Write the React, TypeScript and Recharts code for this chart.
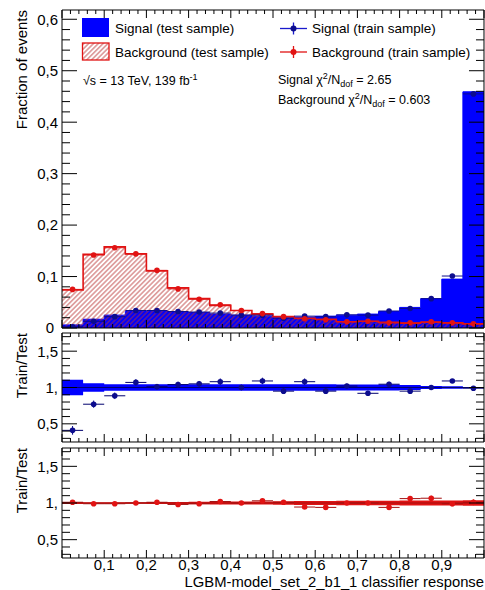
import React from 'react'
import { ComposedChart, Area, Scatter, ErrorBar, XAxis, YAxis, ReferenceLine } from 'recharts'

const FONT = "'Liberation Sans', Arial, Helvetica, sans-serif"
const W = 485
const BLUE = '#0000ff'
const BLUE_DARK = '#0c0c8e'
const RED = '#e11313'
const RED_DARK = '#a31010'
// axes take no room: the frame is drawn by their axis lines
const THIN = 0.01

// classifier response binning, 20 bins
const binEdges = [0, 0.05, 0.1, 0.15, 0.2, 0.25, 0.3, 0.35, 0.4, 0.45, 0.5, 0.55, 0.6, 0.65, 0.7, 0.75, 0.8, 0.85, 0.9, 0.95, 1]

// fraction of events per bin
const sigTest = [0.006, 0.017, 0.025, 0.032, 0.033, 0.031, 0.03, 0.027, 0.025, 0.023, 0.02, 0.021, 0.023, 0.025, 0.027, 0.032, 0.04, 0.057, 0.095, 0.459]
const sigTrain = [0.0025, 0.013, 0.022, 0.034, 0.034, 0.032, 0.031, 0.029, 0.025, 0.025, 0.019, 0.023, 0.022, 0.0255, 0.025, 0.033, 0.038, 0.057, 0.101, 0.455]
const bkgTest = [0.074, 0.143, 0.158, 0.144, 0.111, 0.078, 0.057, 0.044, 0.034, 0.027, 0.022, 0.019, 0.017, 0.012, 0.013, 0.011, 0.0095, 0.0113, 0.01, 0.008]
const bkgTrain = [0.075, 0.142, 0.156, 0.144, 0.112, 0.076, 0.056, 0.045, 0.034, 0.028, 0.022, 0.018, 0.016, 0.012, 0.013, 0.01, 0.01, 0.012, 0.01, 0.008]

// train/test ratios with their errors, and the test-sample error band
const sigRatio = [0.41, 0.77, 0.886, 1.07, 1.01, 1.04, 1.05, 1.08, 1.0, 1.09, 0.95, 1.08, 0.95, 1.02, 0.92, 1.045, 0.95, 1.0, 1.09, 0.99]
const sigRatioErr = [0.06, 0.05, 0.045, 0.045, 0.04, 0.04, 0.04, 0.045, 0.04, 0.045, 0.04, 0.045, 0.04, 0.035, 0.035, 0.035, 0.03, 0.02, 0.015, 0.006]
const sigBandErr = [0.105, 0.06, 0.045, 0.045, 0.045, 0.045, 0.045, 0.045, 0.045, 0.045, 0.045, 0.045, 0.045, 0.042, 0.042, 0.04, 0.035, 0.022, 0.016, 0.006]
const bkgRatio = [1.01, 0.99, 0.99, 1.0, 1.01, 0.98, 0.99, 1.02, 1.0, 1.03, 1.01, 0.945, 0.94, 1.0, 1.0, 0.94, 1.06, 1.065, 0.99, 1.01]
const bkgRatioErr = [0.012, 0.008, 0.008, 0.008, 0.01, 0.012, 0.014, 0.016, 0.018, 0.02, 0.022, 0.024, 0.026, 0.028, 0.03, 0.032, 0.035, 0.035, 0.035, 0.04]
const bkgBandErr = [0.015, 0.01, 0.01, 0.01, 0.012, 0.015, 0.018, 0.02, 0.02, 0.022, 0.024, 0.026, 0.028, 0.03, 0.03, 0.032, 0.034, 0.034, 0.034, 0.036]

// labelled axis values
const xLabels = [0.1, 0.2, 0.3, 0.4, 0.5, 0.6, 0.7, 0.8, 0.9]
const fracLabels = [0, 0.1, 0.2, 0.3, 0.4, 0.5, 0.6]
const ratioLabels = [0.5, 1, 1.5]

const steps = (from: number, to: number, step: number) =>
  Array.from({ length: Math.round((to - from) / step) + 1 }, (_, i) => +(from + i * step).toFixed(3))

const xTicks = steps(0, 1, 0.02)
const fracTicks = steps(0, 0.6, 0.02)
const ratioTicks = steps(0.3, 1.7, 0.1)

// step histograms: one row per bin edge, last edge repeats the last bin
const at = (arr: number[], i: number) => arr[Math.min(i, arr.length - 1)]
const histRows = binEdges.map((x, i) => ({
  x,
  sig: at(sigTest, i),
  bkg: at(bkgTest, i),
  sigBand: [1 - at(sigBandErr, i), 1 + at(sigBandErr, i)],
  bkgBand: [1 - at(bkgBandErr, i), 1 + at(bkgBandErr, i)],
}))

const points = (vals: number[], errs?: number[]) =>
  vals.map((y, i) => ({
    x: (binEdges[i] + binEdges[i + 1]) / 2,
    y,
    ex: (binEdges[i + 1] - binEdges[i]) / 2,
    ey: errs ? errs[i] : 0,
  }))

const sigTrainPts = points(sigTrain)
const bkgTrainPts = points(bkgTrain)
const sigRatioPts = points(sigRatio, sigRatioErr)
const bkgRatioPts = points(bkgRatio, bkgRatioErr)

// comma decimals; the "0" at the bottom of the top pad has no visible comma
const fmt = (v: number) => (v === 0 ? '0' : Number.isInteger(v) ? `${v},` : v.toFixed(1).replace('.', ','))

type Side = 'top' | 'bottom' | 'left' | 'right'

// ROOT-style ticks: drawn inward from the frame, labels outside
function axisTick(side: Side, step: number, labels: number[] = []) {
  const vertical = side === 'left' || side === 'right'
  const long = vertical ? 15 : 8
  const short = vertical ? 8 : 4
  return (props: any) => {
    const { x, y, payload } = props
    const v = payload.value as number
    const major = Math.abs(v / step - Math.round(v / step)) < 1e-6
    const len = major ? long : short
    const dx = side === 'left' ? len : side === 'right' ? -len : 0
    const dy = side === 'bottom' ? -len : side === 'top' ? len : 0
    const show = labels.some((l) => Math.abs(l - v) < 1e-6)
    return (
      <g>
        <line x1={x} y1={y} x2={x + dx} y2={y + dy} stroke="#000" strokeWidth={1} />
        {show && side === 'bottom' && (
          <text x={x} y={y + 12} textAnchor="middle" fontFamily={FONT} fontSize={15} fill="#000">
            {fmt(v)}
          </text>
        )}
        {show && side === 'left' && (
          <text x={x - (v === 0 ? 8 : 4)} y={y} dy="0.36em" textAnchor="end" fontFamily={FONT} fontSize={15} fill="#000">
            {fmt(v)}
          </text>
        )}
      </g>
    )
  }
}

const frameLine = { stroke: '#000', strokeWidth: 1 }

function frameAxes(yDomain: [number, number], yTicks: number[], yStep: number, yLabels: number[], xLab: number[]) {
  return [
    <XAxis key="xb" xAxisId="b" dataKey="x" type="number" domain={[0, 1]} allowDataOverflow ticks={xTicks} interval={0}
      height={THIN} tickSize={0} tickMargin={0} tickLine={false} axisLine={frameLine} tick={axisTick('bottom', 0.1, xLab)} />,
    <XAxis key="xt" xAxisId="t" orientation="top" dataKey="x" type="number" domain={[0, 1]} allowDataOverflow ticks={xTicks} interval={0}
      height={THIN} tickSize={0} tickMargin={0} tickLine={false} axisLine={frameLine} tick={axisTick('top', 0.1)} />,
    <YAxis key="yl" yAxisId="l" type="number" domain={yDomain} allowDataOverflow ticks={yTicks} interval={0}
      width={THIN} tickSize={0} tickMargin={0} tickLine={false} axisLine={frameLine} tick={axisTick('left', yStep, yLabels)} />,
    <YAxis key="yr" yAxisId="r" orientation="right" type="number" domain={yDomain} allowDataOverflow ticks={yTicks} interval={0}
      width={THIN} tickSize={0} tickMargin={0} tickLine={false} axisLine={frameLine} tick={axisTick('right', yStep)} />,
  ]
}

const dot = (color: string) => (p: any) => <circle cx={p.cx} cy={p.cy} r={2.8} fill={color} />

function TopPanel() {
  return (
    <ComposedChart width={W} height={330} data={histRows} margin={{ top: 10, right: 1, bottom: 2, left: 62 }}>
      {frameAxes([0, 0.618], fracTicks, 0.1, fracLabels, [])}
      <Area xAxisId="b" yAxisId="l" type="stepAfter" dataKey="sig" fill={BLUE} fillOpacity={1} stroke={BLUE}
        strokeWidth={1} dot={false} activeDot={false} isAnimationActive={false} />
      <Area xAxisId="b" yAxisId="l" type="stepAfter" dataKey="bkg" fill="url(#bkgHatch)" fillOpacity={1} stroke={RED}
        strokeWidth={1.6} dot={false} activeDot={false} isAnimationActive={false} />
      <Scatter xAxisId="b" yAxisId="l" data={sigTrainPts} dataKey="y" shape={dot(BLUE_DARK)} isAnimationActive={false}>
        <ErrorBar dataKey="ex" direction="x" width={0} stroke={BLUE_DARK} strokeWidth={1} isAnimationActive={false} />
      </Scatter>
      <Scatter xAxisId="b" yAxisId="l" data={bkgTrainPts} dataKey="y" shape={dot(RED)} isAnimationActive={false}>
        <ErrorBar dataKey="ex" direction="x" width={0} stroke={RED} strokeWidth={1} isAnimationActive={false} />
      </Scatter>
    </ComposedChart>
  )
}

function RatioPanel({ height, margin, band, pts, fill, line, mark, xLab }: {
  height: number
  margin: { top: number; right: number; bottom: number; left: number }
  band: string
  pts: typeof sigRatioPts
  fill: string
  line: string
  mark: string
  xLab: number[]
}) {
  return (
    <ComposedChart width={W} height={height} data={histRows} margin={margin}>
      {frameAxes([0.25, 1.75], ratioTicks, 0.5, ratioLabels, xLab)}
      <Area xAxisId="b" yAxisId="l" type="stepAfter" dataKey={band} fill={fill} fillOpacity={1} stroke="none"
        dot={false} activeDot={false} isAnimationActive={false} />
      <ReferenceLine xAxisId="b" yAxisId="l" y={1} stroke={line} strokeWidth={1.2} />
      <Scatter xAxisId="b" yAxisId="l" data={pts} dataKey="y" shape={dot(mark)} isAnimationActive={false}>
        <ErrorBar dataKey="ex" direction="x" width={0} stroke={line} strokeWidth={1} isAnimationActive={false} />
        <ErrorBar dataKey="ey" direction="y" width={0} stroke={mark} strokeWidth={1} isAnimationActive={false} />
      </Scatter>
    </ComposedChart>
  )
}

function Overlay() {
  const text = { fontFamily: FONT, fill: '#000' }
  return (
    <svg width={W} height={590} style={{ position: 'absolute', left: 0, top: 0, pointerEvents: 'none' }}>
      <defs>
        <pattern id="bkgHatch" patternUnits="userSpaceOnUse" width={3.4} height={3.4} patternTransform="rotate(45)">
          <line x1={1.7} y1={0} x2={1.7} y2={3.4} stroke="#b83030" strokeWidth={0.8} />
        </pattern>
      </defs>

      {/* legend */}
      <rect x={82} y={18} width={27} height={19} fill={BLUE} />
      <text x={115} y={33} fontSize={13.5} {...text}>Signal (test sample)</text>
      <rect x={82.5} y={43} width={26.5} height={17} fill="url(#bkgHatch)" stroke={RED} strokeWidth={1.3} />
      <text x={115} y={56.5} fontSize={13.5} {...text}>Background (test sample)</text>

      <line x1={280} y1={28.5} x2={307} y2={28.5} stroke="#1a1acc" strokeWidth={1.3} />
      <line x1={293.5} y1={22.5} x2={293.5} y2={34.5} stroke="#1a1acc" strokeWidth={1.3} />
      <circle cx={293.5} cy={28.5} r={3} fill={BLUE_DARK} />
      <text x={312} y={33} fontSize={13.5} {...text}>Signal (train sample)</text>
      <line x1={280} y1={52} x2={307} y2={52} stroke={RED} strokeWidth={1.3} />
      <line x1={293.5} y1={46} x2={293.5} y2={58} stroke={RED} strokeWidth={1.3} />
      <circle cx={293.5} cy={52} r={3} fill={RED} />
      <text x={312} y={56.5} fontSize={13.5} {...text}>Background (train sample)</text>

      <text x={83} y={85} fontSize={12.5} {...text}>
        √s = 13 TeV, 139 fb<tspan dy={-5} fontSize={9}>-1</tspan>
      </text>
      <text x={278} y={84} fontSize={12.5} {...text}>
        Signal χ<tspan dy={-5} fontSize={9}>2</tspan>
        <tspan dy={5}>/N</tspan>
        <tspan dy={3} fontSize={9}>dof</tspan>
        <tspan dy={-3}> = 2.65</tspan>
      </text>
      <text x={278} y={104} fontSize={12.5} {...text}>
        Background χ<tspan dy={-5} fontSize={9}>2</tspan>
        <tspan dy={5}>/N</tspan>
        <tspan dy={3} fontSize={9}>dof</tspan>
        <tspan dy={-3}> = 0.603</tspan>
      </text>

      {/* axis titles */}
      <text transform="translate(27,10) rotate(-90)" textAnchor="end" fontSize={15} {...text}>Fraction of events</text>
      <text transform="translate(27,333) rotate(-90)" textAnchor="end" fontSize={15} {...text}>Train/Test</text>
      <text transform="translate(27,448) rotate(-90)" textAnchor="end" fontSize={15} {...text}>Train/Test</text>
      <text x={484} y={586.8} textAnchor="end" fontSize={14.8} {...text}>LGBM-model_set_2_b1_1 classifier response</text>
    </svg>
  )
}

export default function App() {
  return (
    <div style={{ position: 'absolute', left: 0, top: 0, width: W, height: 590, background: '#fff' }}>
      {/* let tick labels that sit on a pad edge spill past the chart surface */}
      <style>{'.recharts-surface { overflow: visible; }'}</style>
      <div style={{ position: 'absolute', left: 0, top: 0 }}>
        <TopPanel />
      </div>
      <div style={{ position: 'absolute', left: 0, top: 330 }}>
        <RatioPanel height={114} margin={{ top: 3, right: 1, bottom: 2, left: 62 }} band="sigBand" pts={sigRatioPts}
          fill={BLUE} line="#00006e" mark={BLUE_DARK} xLab={[]} />
      </div>
      <div style={{ position: 'absolute', left: 0, top: 444 }}>
        <RatioPanel height={146} margin={{ top: 4, right: 1, bottom: 32, left: 62 }} band="bkgBand" pts={bkgRatioPts}
          fill={RED} line={RED_DARK} mark={RED} xLab={xLabels} />
      </div>
      <Overlay />
    </div>
  )
}
